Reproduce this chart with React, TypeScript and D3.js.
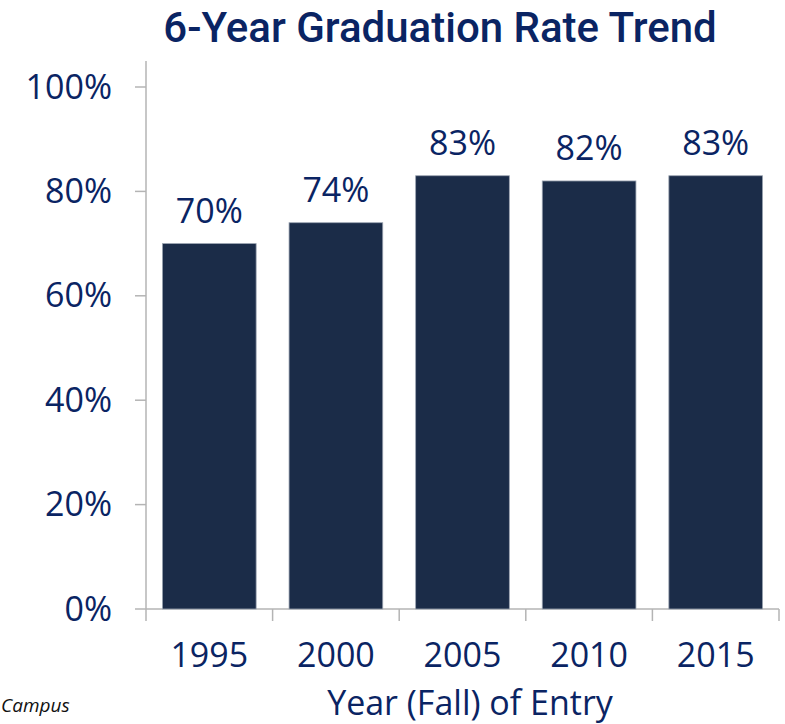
import React from "react";
import * as d3 from "d3";

const categories = ["1995", "2000", "2005", "2010", "2015"];
const rates = [70, 74, 83, 82, 83];
const yTicks = [0, 20, 40, 60, 80, 100];

const W = 785;
const H = 724;
const NAVY = "#0a2463";
const BAR = "#1b2c48";
const AXIS = "#b4b4b4";
const FONT = "'Open Sans', 'Liberation Sans', sans-serif";
const TITLE_FONT = "Roboto, 'Liberation Sans', sans-serif";

export default function App() {
  const x = d3
    .scaleBand<string>()
    .domain(categories)
    .range([146, 779])
    .paddingInner(0.26)
    .paddingOuter(0.13);
  const y = d3.scaleLinear().domain([0, 100]).range([609, 87]);
  const step = x.step();
  const x0 = 146;

  return (
    <svg width={W} height={H} style={{ position: "absolute", left: 0, top: 0 }} fontFamily={FONT}>
      <rect width={W} height={H} fill="#fff" />
      <text
        x={440}
        y={42}
        textAnchor="middle"
        fontSize={42}
        fontWeight={500}
        fill={NAVY}
        fontFamily={TITLE_FONT}
      >
        6-Year Graduation Rate Trend
      </text>

      {/* y axis */}
      <line x1={x0} x2={x0} y1={y(0)} y2={y(105)} stroke={AXIS} strokeWidth={1.5} />
      {yTicks.map((t) => (
        <g key={t}>
          <line x1={x0 - 11} x2={x0} y1={y(t)} y2={y(t)} stroke={AXIS} strokeWidth={1.5} />
          <text x={112} y={y(t) + 11.5} textAnchor="end" fontSize={34} fill={NAVY}>
            {t}%
          </text>
        </g>
      ))}

      {/* x axis */}
      <line x1={x0} x2={779} y1={y(0)} y2={y(0)} stroke={AXIS} strokeWidth={1.5} />
      {d3.range(categories.length + 1).map((i) => (
        <line
          key={i}
          x1={x0 + i * step}
          x2={x0 + i * step}
          y1={y(0)}
          y2={y(0) + 12}
          stroke={AXIS}
          strokeWidth={1.5}
        />
      ))}

      {categories.map((c, i) => {
        const bx = x(c)!;
        const bw = x.bandwidth();
        const cx = bx + bw / 2;
        return (
          <g key={c}>
            <rect
              x={bx}
              y={y(rates[i])}
              width={bw}
              height={y(0) - y(rates[i])}
              fill={BAR}
              stroke="#9aa3b0"
              strokeWidth={0.8}
            />
            <text x={cx} y={y(rates[i]) - 21} textAnchor="middle" fontSize={34} fill={NAVY}>
              {rates[i]}%
            </text>
            <text x={cx} y={667} textAnchor="middle" fontSize={34} fill={NAVY}>
              {c}
            </text>
          </g>
        );
      })}

      <text x={470} y={715} textAnchor="middle" fontSize={34} fill={NAVY}>
        Year (Fall) of Entry
      </text>
      <text x={1} y={712} fontSize={19} fontStyle="italic" fill="#111">
        Campus
      </text>
    </svg>
  );
}
